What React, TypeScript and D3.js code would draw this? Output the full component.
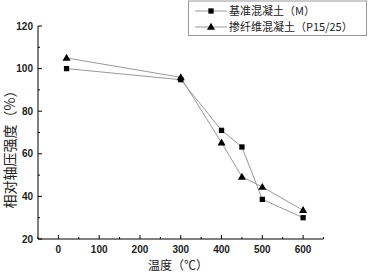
import React from "react";
import * as d3 from "d3";

const temps = [20, 300, 400, 450, 500, 600];
const seriesM = [100, 94.8, 71, 63.2, 38.6, 30];
const seriesP = [105, 95.9, 65.2, 49.2, 44.4, 33.5];
const seriesNames = ["基准混凝土（M）", "掺纤维混凝土（P15/25）"];
const xTicks = [0, 100, 200, 300, 400, 500, 600];
const xMinor = [-50, 50, 150, 250, 350, 450, 550, 650];
const yTicks = [20, 40, 60, 80, 100, 120];
const yMinor = [30, 50, 70, 90, 110];

export default function App() {
  const W = 378, H = 272;
  const x = d3.scaleLinear().domain([-50, 650]).range([38, 323.5]);
  const y = d3.scaleLinear().domain([20, 120]).range([239, 26]);
  const line = d3.line<number>().x((_, i) => x(temps[i])).y((d) => y(d));
  const tri = d3.symbol().type(d3.symbolTriangle).size(28)();
  const sq = d3.symbol().type(d3.symbolSquare).size(28)();
  const font = "Arial, 'Liberation Sans', sans-serif";
  const cjk = "'Noto Sans CJK SC', sans-serif";
  return (
    <svg width={W} height={H} style={{ position: "absolute", left: 0, top: 0, background: "#fff" }}>
      <rect width={W} height={H} fill="#fff" />
      {/* axes */}
      <line x1={38} x2={38} y1={26} y2={239} stroke="#000" strokeWidth={1} />
      <line x1={38} x2={323.5} y1={239} y2={239} stroke="#000" strokeWidth={1} />
      {yTicks.map((t) => (
        <g key={"y" + t}>
          <line x1={38} x2={42} y1={y(t)} y2={y(t)} stroke="#000" />
          <text x={33} y={y(t) + 3.5} textAnchor="end" fontSize={10} fontFamily={font} fontWeight="bold" fill="#222">{t}</text>
        </g>
      ))}
      {yMinor.map((t) => (
        <line key={"ym" + t} x1={38} x2={40} y1={y(t)} y2={y(t)} stroke="#000" />
      ))}
      {xTicks.map((t) => (
        <g key={"x" + t}>
          <line x1={x(t)} x2={x(t)} y1={239} y2={235} stroke="#000" />
          <text x={x(t)} y={253} textAnchor="middle" fontSize={10} fontFamily={font} fontWeight="bold" fill="#222">{t}</text>
        </g>
      ))}
      {xMinor.map((t) => (
        <line key={"xm" + t} x1={x(t)} x2={x(t)} y1={239} y2={237} stroke="#000" />
      ))}
      {/* series */}
      <path d={line(seriesM) || ""} fill="none" stroke="#999" strokeWidth={1} />
      <path d={line(seriesP) || ""} fill="none" stroke="#999" strokeWidth={1} />
      {seriesM.map((v, i) => (
        <path key={"m" + i} d={sq || ""} transform={`translate(${x(temps[i])},${y(v)})`} fill="#000" />
      ))}
      {seriesP.map((v, i) => (
        <path key={"p" + i} d={tri || ""} transform={`translate(${x(temps[i])},${y(v) + 0.5})`} fill="#000" />
      ))}
      {/* legend */}
      <rect x={188.5} y={1} width={178} height={34.5} fill="#fff" stroke="#999" strokeWidth={1} />
      <line x1={195} x2={227} y1={11} y2={11} stroke="#999" />
      <path d={sq || ""} transform="translate(211,11)" fill="#000" />
      <text x={229} y={15} fontSize={11} fontFamily={cjk} fill="#222">{seriesNames[0]}</text>
      <line x1={195} x2={227} y1={27} y2={27} stroke="#999" />
      <path d={tri || ""} transform="translate(211,27.5)" fill="#000" />
      <text x={229} y={31} fontSize={11} fontFamily={cjk} fill="#222">{seriesNames[1]}</text>
      {/* axis labels */}
      <text x={178} y={270} textAnchor="middle" fontSize={12} fontFamily={cjk} fill="#222">温度（℃）</text>
      <text transform="translate(15,146) rotate(-90)" textAnchor="middle" fontSize={14} fontFamily={cjk} fill="#222">相对轴压强度（%）</text>
    </svg>
  );
}
